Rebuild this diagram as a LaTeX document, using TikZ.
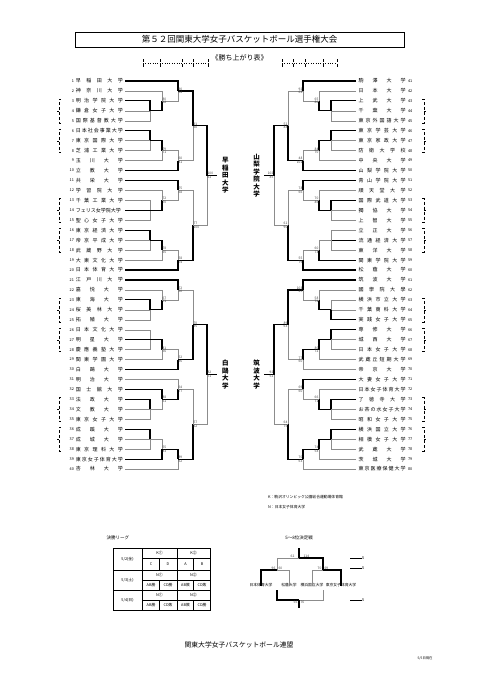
\documentclass[tikz,border=0pt]{standalone}
\usepackage{fontspec}
\setmainfont{Noto Sans CJK JP}
\usetikzlibrary{positioning}

% row -> y (pt, downwards)
\newcommand\ry[1]{81+9.95*(#1)}
% column positions of both halves
\def\XsL{125}\def\XaL{150}\def\XbL{162}\def\XcL{178}\def\XdL{193}\def\XeL{207}\def\XwL{217}
\def\XsR{356}\def\XaR{331}\def\XbR{319}\def\XcR{303}\def\XdR{288}\def\XeR{274}\def\XwR{264}
\def\BrL{59}\def\BrR{424}
\def\TkL{1.8}\def\TkR{-1.8}

% one block of ten teams: side, block, league1 winner, M1, M2, league2 winner, M3, M4, M5
\newcommand\blk[9]{%
  \edef\bxa{\csname Xa#1\endcsname}\edef\bxb{\csname Xb#1\endcsname}%
  \edef\bxc{\csname Xc#1\endcsname}\edef\bxd{\csname Xd#1\endcsname}%
  \edef\bxr{\csname Br#1\endcsname}\edef\bxt{\csname Tk#1\endcsname}%
  \pgfmathtruncatemacro\ka{10*#2}\pgfmathtruncatemacro\kb{\ka+1}%
  \pgfmathtruncatemacro\kc{\ka+2}\pgfmathtruncatemacro\kd{\ka+3}%
  \pgfmathtruncatemacro\ke{\ka+4}\pgfmathtruncatemacro\kf{\ka+5}%
  \pgfmathtruncatemacro\kg{\ka+6}\pgfmathtruncatemacro\kh{\ka+7}%
  \pgfmathtruncatemacro\ki{\ka+8}\pgfmathtruncatemacro\kj{\ka+9}%
  \coordinate (#1l1-#2) at (\bxa,{\ry{\kd}});
  \coordinate (#1m1-#2) at (\bxb,{\ry{\kc}});
  \coordinate (#1m2-#2) at (\bxc,{\ry{\kb}});
  \coordinate (#1l2-#2) at (\bxa,{\ry{\kg}});
  \coordinate (#1m3-#2) at (\bxb,{\ry{\kh}});
  \coordinate (#1m4-#2) at (\bxc,{\ry{\ki}});
  \coordinate (#1m5-#2) at (\bxd,{\ry{\ka+4.5}});
  % leagues of three
  \draw[lg#30] (t#1\kc) -| (#1l1-#2);
  \draw[lg#31] (t#1\kd) -- (#1l1-#2);
  \draw[lg#32] (t#1\ke) -| (#1l1-#2);
  \draw[lg#60] (t#1\kf) -| (#1l2-#2);
  \draw[lg#61] (t#1\kg) -- (#1l2-#2);
  \draw[lg#62] (t#1\kh) -| (#1l2-#2);
  % knockout
  \draw[wt#4] (t#1\kb) -| (#1m1-#2);
  \draw[wb#4] (#1l1-#2) -| (#1m1-#2);
  \draw[wt#5] (t#1\ka) -| (#1m2-#2);
  \draw[wb#5] (#1m1-#2) -| (#1m2-#2);
  \draw[wt#7] (#1l2-#2) -| (#1m3-#2);
  \draw[wb#7] (t#1\ki) -| (#1m3-#2);
  \draw[wt#8] (#1m3-#2) -| (#1m4-#2);
  \draw[wb#8] (t#1\kj) -| (#1m4-#2);
  \draw[wt#9] (#1m2-#2) -| (#1m5-#2);
  \draw[wb#9] (#1m4-#2) -| (#1m5-#2);
  % league marks
  \coordinate (#1g1a-#2) at (\bxr,{\ry{\kc}-2});
  \coordinate (#1g1b-#2) at (\bxr,{\ry{\ke}+2});
  \coordinate (#1g2a-#2) at (\bxr,{\ry{\kf}-2});
  \coordinate (#1g2b-#2) at (\bxr,{\ry{\kh}+2});
  \draw[brc] ([xshift=\bxt pt]#1g1a-#2) -- (#1g1a-#2) -- (#1g1b-#2) -- ([xshift=\bxt pt]#1g1b-#2);
  \draw[brc] ([xshift=\bxt pt]#1g2a-#2) -- (#1g2a-#2) -- (#1g2b-#2) -- ([xshift=\bxt pt]#1g2b-#2);
  \draw[hair] (\bxr,{\ry{\kd}}) -- ++({-\bxt},0);
  \draw[hair] (\bxr,{\ry{\kg}}) -- ++({-\bxt},0);
}

% pair of blocks: side, pair, winner
\newcommand\qtr[3]{%
  \pgfmathtruncatemacro\qa{2*#2}\pgfmathtruncatemacro\qb{2*#2+1}%
  \coordinate (#1q-#2) at (\csname Xe#1\endcsname,{\ry{20*#2+9.5}});
  \coordinate (#1w-#2) at (\csname Xw#1\endcsname,{\ry{20*#2+9.5}});
  \draw[wt#3] (#1m5-\qa) -| (#1q-#2);
  \draw[wb#3] (#1m5-\qb) -| (#1q-#2);
  \draw[win] (#1q-#2) -- (#1w-#2);
}

% scores at a junction
\newcommand\sco[4]{%
  \node[scr, st#1] (#2t) at (#2) {#3};
  \node[scr, sb#1] (#2b) at (#2) {#4};
}

\begin{document}
\begin{tikzpicture}[x=1pt, y=-1pt,
    win/.style={line width=1.15pt, black},
    lose/.style={line width=0.45pt, black!45},
    wtt/.style=win, wtb/.style=lose, wbt/.style=lose, wbb/.style=win,
    lg00/.style=win, lg01/.style=lose, lg02/.style=lose,
    lg10/.style=lose, lg11/.style=win, lg12/.style=lose,
    lg20/.style=lose, lg21/.style=lose, lg22/.style=win,
    brc/.style={densely dashed, line width=0.4pt},
    tname/.style={font=\fontsize{5}{5}\selectfont, inner sep=0pt},
    tnum/.style={font=\fontsize{3.8}{4}\selectfont, inner sep=0pt},
    scr/.style={font=\fontsize{3.3}{3.3}\selectfont, inner sep=0.4pt, black!75},
    stL/.style={anchor=south west}, sbL/.style={anchor=north west},
    stR/.style={anchor=south east}, sbR/.style={anchor=north east},
    wlab/.style={font=\fontsize{6.5}{7.5}\selectfont\bfseries, align=center, inner sep=0pt},
    cell/.style={font=\fontsize{3.8}{4}\selectfont, inner sep=0pt},
    rule/.style={line width=0.9pt},
    hair/.style={line width=0.35pt},
    note/.style={font=\fontsize{3.8}{4}\selectfont, inner sep=0pt}
  ]
  \useasboundingbox (0,0) rectangle (481,680);

  % title
  \node[draw, line width=0.6pt, minimum width=329pt, minimum height=15pt,
        font=\fontsize{8.5}{9}\selectfont] (title) at (239.5,39.5)
    {第５２回関東大学女子バスケットボール選手権大会};
  \node[font=\fontsize{7}{7}\selectfont, below=4pt of title] (sub) {《勝ち上がり表》};

  % round marks
  \foreach \x in {143,160,182,193,208,282,293,305,323,337}
    \draw[densely dashed, line width=0.4pt] (\x,59) -- (\x,67);
  \draw[dotted, line width=0.4pt] (143,63) -- (208,63);
  \draw[dotted, line width=0.4pt] (282,63) -- (337,63);

  % team end points
  \foreach \i in {0,...,39} {
    \coordinate (tL\i) at (\XsL,{\ry{\i}});
    \coordinate (tR\i) at (\XsR,{\ry{\i}});
  }

  % left teams
  \foreach \i/\nm in {0/早 稲 田 大 学, 1/神 奈 川 大 学, 2/明 治 学 院 大 学,
      3/鎌 倉 女 子 大 学, 4/国 際 基 督 教 大 学, 5/日 本 社 会 事 業 大 学,
      6/東 京 国 際 大 学, 7/芝 浦 工 業 大 学, 8/玉 川 大 学, 9/立 教 大 学,
      10/共 栄 大 学, 11/学 習 院 大 学, 12/千 葉 工 業 大 学, 13/フェリス女学院大学,
      14/聖 心 女 子 大 学, 15/東 京 経 済 大 学, 16/帝 京 平 成 大 学,
      17/武 蔵 野 大 学, 18/大 東 文 化 大 学, 19/日 本 体 育 大 学,
      20/江 戸 川 大 学, 21/嘉 悦 大 学, 22/東 海 大 学, 23/桜 美 林 大 学,
      24/拓 殖 大 学, 25/日 本 文 化 大 学, 26/明 星 大 学, 27/慶 應 義 塾 大 学,
      28/関 東 学 園 大 学, 29/白 鷗 大 学, 30/明 治 大 学, 31/国 士 舘 大 学,
      32/法 政 大 学, 33/文 教 大 学, 34/東 京 女 子 大 学, 35/成 蹊 大 学,
      36/成 城 大 学, 37/東 京 理 科 大 学, 38/東 京 女 子 体 育 大 学, 39/杏 林 大 学} {
    \pgfmathtruncatemacro\nn{\i+1}
    \node[tname, anchor=east] (nL\i) at ([xshift=-2pt]tL\i) {\makebox[47pt][s]{\nm}};
    \node[tnum, anchor=east, left=1.5pt of nL\i] (kL\i) {\nn};
  }

  % right teams
  \foreach \i/\nm in {0/駒 澤 大 学, 1/日 本 大 学, 2/上 武 大 学, 3/千 葉 大 学,
      4/東 京 外 国 語 大 学, 5/東 京 学 芸 大 学, 6/東 京 家 政 大 学,
      7/防 衛 大 学 校, 8/中 央 大 学, 9/山 梨 学 院 大 学,
      10/青 山 学 院 大 学, 11/順 天 堂 大 学, 12/国 際 武 道 大 学,
      13/獨 協 大 学, 14/上 智 大 学, 15/立 正 大 学, 16/流 通 経 済 大 学,
      17/東 洋 大 学, 18/関 東 学 院 大 学, 19/松 蔭 大 学,
      20/筑 波 大 学, 21/國 學 院 大 學, 22/横 浜 市 立 大 学, 23/千 葉 商 科 大 学,
      24/実 践 女 子 大 学, 25/専 修 大 学, 26/城 西 大 学, 27/日 本 女 子 大 学,
      28/武 蔵 丘 短 期 大 学, 29/帝 京 大 学, 30/大 妻 女 子 大 学,
      31/日 本 女 子 体 育 大 学, 32/了 徳 寺 大 学, 33/お 茶 の 水 女 子 大 学,
      34/昭 和 女 子 大 学, 35/横 浜 国 立 大 学, 36/相 模 女 子 大 学,
      37/武 蔵 大 学, 38/茨 城 大 学, 39/東 京 医 療 保 健 大 学} {
    \pgfmathtruncatemacro\nn{\i+41}
    \node[tname, anchor=west] (nR\i) at ([xshift=2.5pt]tR\i) {\makebox[47pt][s]{\nm}};
    \node[tnum, anchor=west, right=2pt of nR\i] (kR\i) {\nn};
  }

  % brackets
  \blk{L}{0}{0}{b}{t}{0}{t}{b}{t}
  \blk{L}{1}{1}{b}{t}{0}{t}{b}{b}
  \blk{L}{2}{0}{b}{t}{1}{t}{b}{b}
  \blk{L}{3}{0}{t}{b}{0}{b}{t}{b}
  \qtr{L}{0}{t}
  \qtr{L}{1}{t}
  \blk{R}{0}{0}{b}{t}{0}{t}{b}{b}
  \blk{R}{1}{0}{b}{t}{1}{b}{b}{b}
  \blk{R}{2}{2}{b}{t}{0}{t}{t}{t}
  \blk{R}{3}{0}{b}{t}{0}{t}{t}{b}
  \qtr{R}{0}{t}
  \qtr{R}{1}{t}

  % scores
  \foreach \m/\a/\b in {Lm1-0/80/62, Lm2-0/90/64, Lm3-0/79/71, Lm4-0/60/81, Lm5-0/91/60,
      Lm1-1/72/70, Lm2-1/75/68, Lm3-1/78/65, Lm4-1/58/74, Lm5-1/77/100,
      Lm1-2/67/71, Lm2-2/72/60, Lm3-2/81/56, Lm4-2/52/96, Lm5-2/70/95,
      Lm1-3/88/61, Lm2-3/64/77, Lm3-3/55/83, Lm4-3/89/62, Lm5-3/57/62,
      Lq-0/100/61, Lq-1/82/71}
    {\sco{L}{\m}{\a}{\b}}
  \foreach \m/\a/\b in {Rm1-0/65/80, Rm2-0/92/63, Rm3-0/84/70, Rm4-0/48/101, Rm5-0/52/88,
      Rm1-1/70/86, Rm2-1/78/66, Rm3-1/60/73, Rm4-1/55/79, Rm5-1/61/90,
      Rm1-2/58/74, Rm2-2/103/45, Rm3-2/80/72, Rm4-2/77/60, Rm5-2/89/63,
      Rm1-3/66/71, Rm2-3/69/60, Rm3-3/74/58, Rm4-3/70/63, Rm5-3/64/75,
      Rq-0/102/85, Rq-1/92/52}
    {\sco{R}{\m}{\a}{\b}}

  % best four
  \node[wlab, anchor=west] (bL0) at ([xshift=5pt]Lw-0) {早\\稲\\田\\大\\学};
  \node[wlab, anchor=west] (bL1) at ([xshift=5pt]Lw-1) {白\\鷗\\大\\学};
  \node[wlab, anchor=east] (bR0) at ([xshift=-4pt]Rw-0) {山\\梨\\学\\院\\大\\学};
  \node[wlab, anchor=east] (bR1) at ([xshift=-4pt]Rw-1) {筑\\波\\大\\学};

  % venues
  \node[note, anchor=west] (vK) at (268,497) {K：駒沢オリンピック公園総合運動場体育館};
  \node[note, anchor=west, below=6pt of vK.south west, anchor=north west] (vN) {N：日本女子体育大学};

  % final league
  \node[font=\fontsize{4.5}{5}\selectfont, anchor=west] (flt) at (103,538) {決勝リーグ};
  \draw[rule] (113,548) rectangle (210,610);
  \draw[rule] (113,570) -- (210,570);
  \draw[rule] (113,590) -- (210,590);
  \draw[rule] (142,548) -- (142,610);
  \draw[rule] (177,548) -- (177,610);
  \foreach \y in {558.5,580,600} \draw[hair] (142,\y) -- (210,\y);
  \foreach \y/\z in {558.5/570,580/590,600/610} {
    \draw[hair] (159.5,\y) -- (159.5,\z);
    \draw[hair] (193.5,\y) -- (193.5,\z);
  }
  \node[cell] (d1) at (127.5,559) {5/2(金)};
  \node[cell] (d2) at (127.5,580) {5/3(土)};
  \node[cell] (d3) at (127.5,600) {5/4(日)};
  \foreach \n/\x/\y/\t in {c1/159.5/553.5/K①, c2/193.5/553.5/K②,
      c3/159.5/575/N①, c4/193.5/575/N②, c5/159.5/595/N①, c6/193.5/595/N②,
      e1/151/564.5/C, e2/168/564.5/D, e3/185.5/564.5/A, e4/202/564.5/B,
      f1/151/585/AB勝, f2/168/585/CD勝, f3/185.5/585/AB敗, f4/202/585/CD敗,
      g1/151/605/AB勝, g2/168/605/CD敗, g3/185.5/605/AB敗, g4/202/605/CD勝}
    \node[cell] (\n) at (\x,\y) {\t};

  % places 5 to 8
  \node[font=\fontsize{4.5}{5}\selectfont] (pt) at (299,538) {5～8位決定戦};
  \foreach \n/\x/\t in {p1/261/日本体育大学, p2/289/松蔭大学, p3/312/横浜国立大学, p4/341/東京女子体育大学}
    \node[note, anchor=north] (\n) at (\x,583) {\t};
  \coordinate (s1) at (277,570);
  \coordinate (s2) at (323,570);
  \coordinate (f5) at (299,558);
  \coordinate (f5t) at (299,548);
  \coordinate (o1) at (277,590);
  \coordinate (o2) at (323,590);
  \coordinate (f7) at (299,600);
  \coordinate (f7b) at (299,608);
  \draw[win] ([yshift=-2.5pt]p1.north) |- (s1);
  \draw[lose] ([yshift=-2.5pt]p2.north) |- (s1);
  \draw[lose] ([yshift=-2.5pt]p3.north) |- (s2);
  \draw[win] ([yshift=-2.5pt]p4.north) |- (s2);
  \draw[lose] (s1) |- (f5);
  \draw[win] (s2) |- (f5);
  \draw[win] (f5) -- (f5t);
  \draw[win] (o1) |- (f7);
  \draw[lose] (o2) |- (f7);
  \draw[win] (f7) -- (f7b);
  \node[scr, anchor=south east] (r1) at ([xshift=-4pt]f5) {62};
  \node[scr, anchor=south west] (r2) at ([xshift=4pt]f5) {114};
  \node[scr, anchor=south east] (r3) at ([xshift=-1pt]s1) {96};
  \node[scr, anchor=south west] (r4) at ([xshift=1pt]s1) {60};
  \node[scr, anchor=south east] (r5) at ([xshift=-1pt]s2) {70};
  \node[scr, anchor=south west] (r6) at ([xshift=1pt]s2) {69};
  \node[scr, anchor=north east] (r7) at ([xshift=-1pt]f7) {56};
  \node[scr, anchor=north west] (r8) at ([xshift=1pt]f7) {76};
  \foreach \n/\y/\t in {h1/558/5/4, h2/568/5/3, h3/600/5/4} {
    \node[note, anchor=west] (\n) at (362,\y) {\t};
    \draw[hair] (350,\y) -- (\n.west);
  }

  % footer
  \node[font=\fontsize{6.8}{7}\selectfont] (org) at (239,645) {関東大学女子バスケットボール連盟};
  \node[note, font=\fontsize{3.3}{3.5}\selectfont] (upd) at (425,658) {5/5日現在};
\end{tikzpicture}
\end{document}
